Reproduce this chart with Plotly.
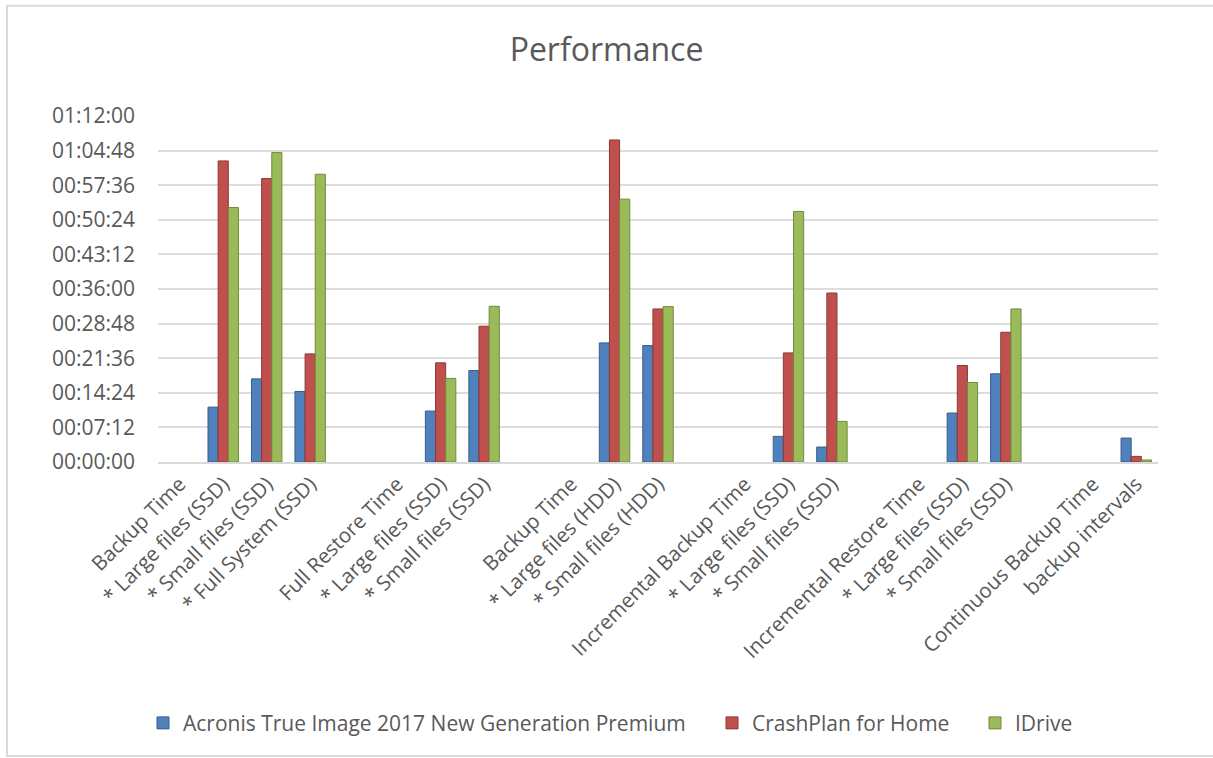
import plotly.graph_objects as go

categories = ["Backup Time", "* Large files (SSD)", "* Small files (SSD)", "* Full System (SSD)", "",
              "Full Restore Time", "* Large files (SSD)", "* Small files (SSD)", "",
              "Backup Time", "* Large files (HDD)", "* Small files (HDD)", "",
              "Incremental Backup Time", "* Large files (SSD)", "* Small files (SSD)", "",
              "Incremental Restore Time", "* Large files (SSD)", "* Small files (SSD)", "",
              "Continuous Backup Time", "backup intervals"]

# values in seconds
acronis = [None, 685, 1038, 881, None, None, 636, 1142, None, None, 1487, 1454, None,
           None, 320, 187, None, None, 611, 1101, None, None, 299]
crashplan = [None, 3759, 3539, 1350, None, None, 1238, 1695, None, None, 4021, 1911, None,
             None, 1362, 2110, None, None, 1205, 1620, None, None, 70]
idrive = [None, 3178, 3863, 3593, None, None, 1043, 1944, None, None, 3282, 1940, None,
          None, 3128, 507, None, None, 993, 1911, None, None, 25]

series_names = ["Acronis True Image 2017 New Generation Premium", "CrashPlan for Home", "IDrive"]
colors = ["#4F81BD", "#C0504D", "#9BBB59"]
edge_colors = ["#385D8A", "#8C3836", "#71893F"]
legend_ids = ["legend", "legend2", "legend3"]
legend_x = [-0.015, 0.554, 0.817]

y_max = 4320
y_step = 432
tickvals = list(range(0, y_max + 1, y_step))


def fmt(s):
    return f"{s // 3600:02d}:{(s % 3600) // 60:02d}:{s % 60:02d}"


ticktext = [fmt(v) for v in tickvals]
xs = list(range(len(categories)))

font_family = "Open Sans, Liberation Sans, sans-serif"
gray = "#595959"

fig = go.Figure()
for name, vals, c, ec, lg in zip(series_names, [acronis, crashplan, idrive], colors, edge_colors, legend_ids):
    fig.add_trace(go.Bar(x=xs, y=vals, name=name, legend=lg,
                         marker=dict(color=c, line=dict(color=ec, width=1))))

legend_common = dict(orientation="h", xanchor="left", y=-0.755, yanchor="middle",
                     bgcolor="rgba(0,0,0,0)", borderwidth=0,
                     font=dict(family=font_family, size=21, color=gray))

fig.update_layout(
    width=1213, height=758,
    margin=dict(l=158, r=55, t=116, b=296),
    paper_bgcolor="white", plot_bgcolor="white",
    barmode="group", bargap=0.3, bargroupgap=0,
    title=dict(text="Performance", x=0.5, xanchor="center", y=0.934, yanchor="middle",
               font=dict(family=font_family, size=32, color=gray)),
    font=dict(family=font_family, size=21, color=gray),
    showlegend=True,
    legend=dict(x=legend_x[0], **legend_common),
    legend2=dict(x=legend_x[1], **legend_common),
    legend3=dict(x=legend_x[2], **legend_common),
    xaxis=dict(tickmode="array", tickvals=xs, ticktext=categories, tickangle=-45,
               range=[-0.5, len(categories) - 0.5], showgrid=False,
               showline=True, linecolor="#D9D9D9", linewidth=2,
               tickfont=dict(family=font_family, size=20.5, color=gray)),
    yaxis=dict(tickmode="array", tickvals=tickvals, ticktext=ticktext, range=[0, y_max],
               showgrid=True, gridcolor="#DDDDDD", gridwidth=2, zeroline=False,
               showline=False, ticks="", ticklabelstandoff=22,
               tickfont=dict(family=font_family, size=21, color=gray)),
    shapes=[dict(type="rect", xref="paper", yref="paper", x0=-0.151, x1=1.07, y0=-0.85, y1=1.319,
                 line=dict(color="#D9D9D9", width=2), fillcolor="rgba(0,0,0,0)", layer="below")],
)

fig.write_html("out.html")
